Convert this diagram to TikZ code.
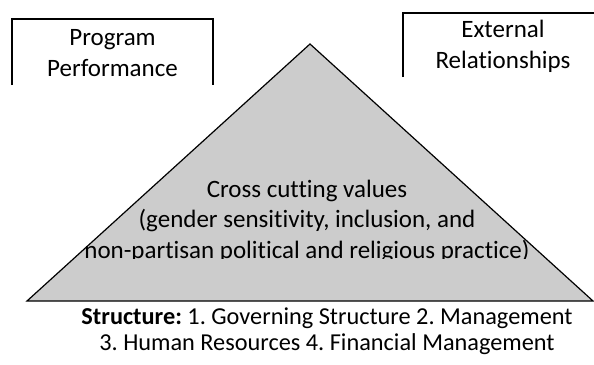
\documentclass[tikz,border=0pt]{standalone}
\usepackage{fontspec}
\setmainfont{Carlito}[Ligatures=NoCommon]
\frenchspacing
\definecolor{pyramidgray}{RGB}{204,204,204}
\tikzset{
  panel/.style={line width=1.6pt, line cap=butt},
  pyramid/.style={fill=pyramidgray, draw=black, line width=1.2pt, line join=miter},
  biglabel/.style={anchor=base, inner sep=0pt, font=\fontsize{25}{30}\selectfont},
  smalllabel/.style={anchor=base, inner sep=0pt, font=\fontsize{24.3}{26}\selectfont}
}
\begin{document}
\begin{tikzpicture}[x=1pt,y=-1pt]
\clip (0,0) rectangle (594,364);

% the pyramid of cross cutting values
\coordinate (apex) at (310,44);
\coordinate (baseL) at (27,301);
\coordinate (baseR) at (593,301);
\draw[pyramid] (apex) -- (baseR) -- (baseL) -- cycle;

% its label, cut off just under the last line
\begin{scope}
  \clip (0,150) rectangle (594,258.6);
  \node[biglabel] (values1) at (307,197) {Cross cutting values};
  \node[biglabel] (values2) at (307,227.5) {(gender sensitivity, inclusion, and};
  \node[biglabel] (values3) at (307,258) {non-partisan political and religious practice)};
\end{scope}

% open-bottomed frames of the two upper corners
\draw[panel] (12,85) -- (12,19) -- (213,19) -- (213,85);
\node[biglabel] (prog1) at (112.5,45.7) {Program};
\node[biglabel] (prog2) at (112.5,76) {Performance};

\draw[panel] (403,77) -- (403,13) -- (603,13) -- (603,77);
\node[biglabel] (ext1) at (503,37.3) {External};
\node[biglabel] (ext2) at (503,68.3) {Relationships};

% structure caption under the base
\node[smalllabel] (struct1) at (327,324) {\textbf{Structure:} 1. Governing Structure 2. Management};
\node[smalllabel] (struct2) at (327,350) {3. Human Resources 4. Financial Management};
\end{tikzpicture}
\end{document}
